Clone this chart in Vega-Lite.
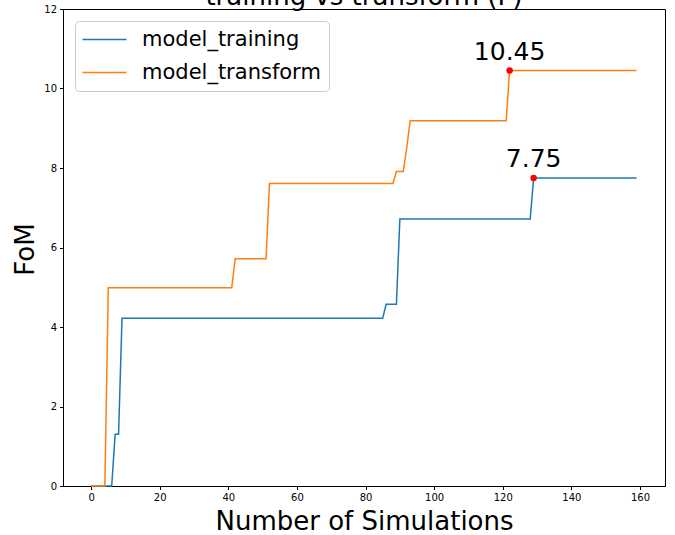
{
  "$schema": "https://vega.github.io/schema/vega-lite/v6.json",
  "autosize": "none",
  "width": 602,
  "height": 477,
  "padding": {"left": 63, "top": 9, "right": 10, "bottom": 49},
  "background": "white",
  "title": {
    "text": "training vs transform (F)",
    "font": "DejaVu Sans",
    "fontSize": 26,
    "fontWeight": "normal",
    "color": "black",
    "anchor": "middle",
    "frame": "group",
    "baseline": "alphabetic",
    "offset": -27
  },
  "config": {
    "font": "DejaVu Sans",
    "view": {"stroke": "black", "strokeWidth": 1},
    "axis": {
      "grid": false,
      "domainColor": "black",
      "tickColor": "black",
      "tickSize": 3.5,
      "labelColor": "black",
      "labelFont": "DejaVu Sans",
      "labelFontSize": 10,
      "labelPadding": 3,
      "titleFont": "DejaVu Sans",
      "titleFontSize": 26,
      "titleFontWeight": "normal",
      "titleColor": "black"
    },
    "legend": {
      "orient": "top-left",
      "offset": 12,
      "padding": 8,
      "fillColor": "white",
      "strokeColor": "#cccccc",
      "cornerRadius": 4,
      "symbolType": "M-1.5,0H4.5",
      "symbolSize": 215,
      "symbolStrokeWidth": 1.5,
      "labelFont": "DejaVu Sans",
      "labelFontSize": 21,
      "labelColor": "black",
      "labelOffset": 38,
      "labelLimit": 400,
      "rowPadding": 11
    }
  },
  "datasets": {
    "lines": [
      {"sim": 0, "fom": 0, "series": "model_training"},
      {"sim": 6, "fom": 0, "series": "model_training"},
      {"sim": 7, "fom": 1.3, "series": "model_training"},
      {"sim": 8, "fom": 1.3, "series": "model_training"},
      {"sim": 9, "fom": 4.22, "series": "model_training"},
      {"sim": 85, "fom": 4.22, "series": "model_training"},
      {"sim": 86, "fom": 4.57, "series": "model_training"},
      {"sim": 89, "fom": 4.57, "series": "model_training"},
      {"sim": 90, "fom": 6.72, "series": "model_training"},
      {"sim": 128, "fom": 6.72, "series": "model_training"},
      {"sim": 129, "fom": 7.75, "series": "model_training"},
      {"sim": 159, "fom": 7.75, "series": "model_training"},
      {"sim": 0, "fom": 0, "series": "model_transform"},
      {"sim": 4, "fom": 0, "series": "model_transform"},
      {"sim": 5, "fom": 4.99, "series": "model_transform"},
      {"sim": 41, "fom": 4.99, "series": "model_transform"},
      {"sim": 42, "fom": 5.72, "series": "model_transform"},
      {"sim": 51, "fom": 5.72, "series": "model_transform"},
      {"sim": 52, "fom": 7.61, "series": "model_transform"},
      {"sim": 88, "fom": 7.61, "series": "model_transform"},
      {"sim": 89, "fom": 7.91, "series": "model_transform"},
      {"sim": 91, "fom": 7.91, "series": "model_transform"},
      {"sim": 92, "fom": 8.5, "series": "model_transform"},
      {"sim": 93, "fom": 9.19, "series": "model_transform"},
      {"sim": 121, "fom": 9.19, "series": "model_transform"},
      {"sim": 122, "fom": 10.45, "series": "model_transform"},
      {"sim": 159, "fom": 10.45, "series": "model_transform"}
    ],
    "peaks": [
      {"sim": 129, "fom": 7.75, "label": "7.75"},
      {"sim": 122, "fom": 10.45, "label": "10.45"}
    ]
  },
  "layer": [
    {
      "data": {"name": "lines"},
      "mark": {"type": "line", "strokeWidth": 1.5},
      "encoding": {
        "x": {
          "field": "sim",
          "type": "quantitative",
          "scale": {"domain": [-8.2, 167.3], "nice": false, "zero": false},
          "axis": {
            "values": [0, 20, 40, 60, 80, 100, 120, 140, 160],
            "title": "Number of Simulations",
            "titleBaseline": "alphabetic",
            "titleX": 301,
            "titleY": 43,
            "titleAlign": "center"
          }
        },
        "y": {
          "field": "fom",
          "type": "quantitative",
          "scale": {"domain": [0, 12], "nice": false},
          "axis": {
            "values": [0, 2, 4, 6, 8, 10, 12],
            "title": "FoM",
            "titleBaseline": "alphabetic",
            "titleAngle": -90,
            "titleX": -30,
            "titleY": 240,
            "titleAlign": "center"
          }
        },
        "color": {
          "field": "series",
          "type": "nominal",
          "scale": {"domain": ["model_training", "model_transform"], "range": ["#1f77b4", "#ff7f0e"]},
          "legend": {"title": null}
        }
      }
    },
    {
      "data": {"name": "peaks"},
      "mark": {"type": "point", "filled": true, "color": "red", "size": 42, "opacity": 1},
      "encoding": {
        "x": {"field": "sim", "type": "quantitative"},
        "y": {"field": "fom", "type": "quantitative"}
      }
    },
    {
      "data": {"name": "peaks"},
      "mark": {"type": "text", "fontSize": 25, "font": "DejaVu Sans", "color": "black", "align": "center", "baseline": "alphabetic", "dy": -11},
      "encoding": {
        "x": {"field": "sim", "type": "quantitative"},
        "y": {"field": "fom", "type": "quantitative"},
        "text": {"field": "label"}
      }
    }
  ]
}
